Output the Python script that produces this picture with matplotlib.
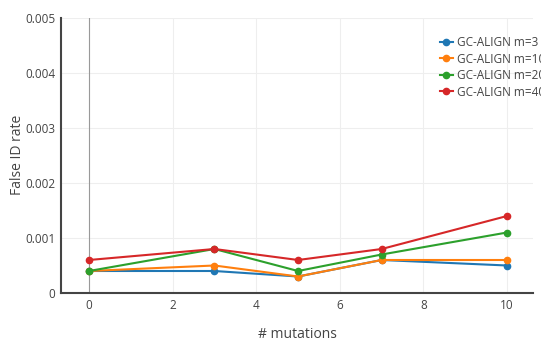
import matplotlib
matplotlib.use("Agg")
import matplotlib.pyplot as plt

plt.rcParams["font.family"] = ["Open Sans", "DejaVu Sans"]

mutations = [0, 3, 5, 7, 10]
fdr_m3 = [0.0004, 0.0004, 0.0003, 0.0006, 0.0005]
fdr_m10 = [0.0004, 0.0005, 0.0003, 0.0006, 0.0006]
fdr_m20 = [0.0004, 0.0008, 0.0004, 0.0007, 0.0011]
fdr_m40 = [0.0006, 0.0008, 0.0006, 0.0008, 0.0014]
labels = ["GC-ALIGN m=3", "GC-ALIGN m=10", "GC-ALIGN m=20", "GC-ALIGN m=40"]
colors = ["#1f77b4", "#ff7f0e", "#2ca02c", "#d62728"]
yticks = [0, 0.001, 0.002, 0.003, 0.004, 0.005]
ytick_labels = ["0", "0.001", "0.002", "0.003", "0.004", "0.005"]
xticks = [0, 2, 4, 6, 8, 10]

text_color = "#444444"

fig = plt.figure(figsize=(5.41, 3.42), dpi=100)
ax = fig.add_axes([61 / 541, 49 / 342, 472 / 541, 275 / 342])

for series, label, color in zip([fdr_m3, fdr_m10, fdr_m20, fdr_m40], labels, colors):
    ax.plot(mutations, series, color=color, lw=1.5, marker="o", ms=4.5,
            label=label, zorder=3, clip_on=False)

ax.set_xlim(-0.67, 10.62)
ax.set_ylim(0, 0.005)
ax.set_xticks(xticks)
ax.set_yticks(yticks)
ax.set_yticklabels(ytick_labels)
ax.tick_params(length=0, labelsize=8.5, colors=text_color, pad=4)

ax.grid(True, color="#eeeeee", lw=0.8)
ax.set_axisbelow(True)
ax.axvline(0, color="#999999", lw=0.8, zorder=1)

for side in ["top", "right"]:
    ax.spines[side].set_visible(False)
for side in ["left", "bottom"]:
    ax.spines[side].set_color(text_color)
    ax.spines[side].set_linewidth(1.5)

fig.text(18 / 541, 1 - 155 / 342, "False ID rate", rotation=90, ha="center",
         va="center", fontsize=10, color=text_color)
fig.text(297 / 541, 1 - 334 / 342, "# mutations", ha="center", va="center",
         fontsize=10, color=text_color)

ax.legend(loc="upper left", bbox_to_anchor=(440 / 541, 1 - 36 / 342),
          bbox_transform=fig.transFigure, frameon=False, fontsize=8.5,
          handlelength=1.1, handletextpad=0.3, labelspacing=0.3,
          borderaxespad=0, borderpad=0, labelcolor=text_color)

fig.savefig("out.png", dpi=100)
